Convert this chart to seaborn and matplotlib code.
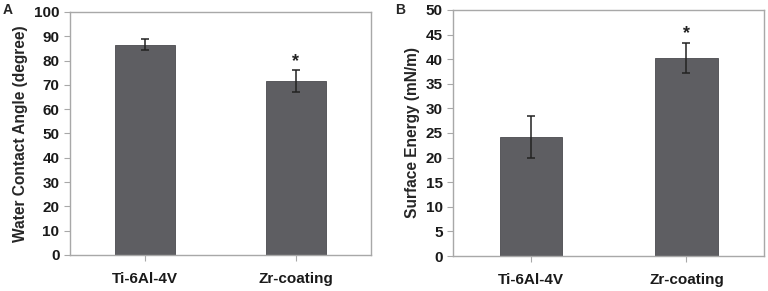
import pandas as pd
import matplotlib
matplotlib.use("Agg")
import matplotlib.pyplot as plt
import seaborn as sns

# dati
categorie = ["Ti-6Al-4V", "Zr-coating"]
angolo = [86.5, 71.5]
angolo_err = [2.3, 4.4]
energia = [24.2, 40.2]
energia_err = [4.3, 3.1]
significativo = [False, True]

sns.set_style("white")
plt.rcParams["font.family"] = ["Liberation Sans", "DejaVu Sans"]
plt.rcParams["font.weight"] = "bold"

BAR = "#5e5e62"
SPINE = "#a8a8a8"


def pannello(fig, rect, valori, errori, ylabel, ymax, passo, lettera, lettera_pos):
    ax = fig.add_axes(rect)
    df = pd.DataFrame({"cat": categorie, "val": valori})
    sns.barplot(data=df, x="cat", y="val", order=categorie, color=BAR,
                saturation=1, width=0.4, errorbar=None,
                edgecolor="#4a4a4e", linewidth=0.6, ax=ax)
    ax.errorbar(range(len(categorie)), valori, yerr=errori, fmt="none",
                ecolor="#222222", elinewidth=1.1, capsize=3, capthick=1.1)
    for i, (v, e, s) in enumerate(zip(valori, errori, significativo)):
        if s:
            ax.text(i, v + e + ymax * 0.038, "*", ha="center", va="center",
                    fontsize=13, fontweight="bold", color="#222222")
    ax.set_xlim(-0.5, 1.5)
    ax.set_ylim(0, ymax)
    ax.set_yticks(range(0, ymax + 1, passo))
    ax.set_xlabel("")
    ax.set_ylabel(ylabel, fontsize=11.2, fontweight="bold", labelpad=4)
    for sp in ax.spines.values():
        sp.set_color(SPINE)
        sp.set_linewidth(1.0)
    ax.tick_params(axis="both", which="major", labelsize=11, length=4,
                   color=SPINE, direction="out", bottom=True, left=True,
                   labelcolor="#1a1a1a")
    ax.tick_params(axis="x", pad=8)
    for lab in ax.get_xticklabels() + ax.get_yticklabels():
        lab.set_fontweight("bold")
    fig.text(lettera_pos[0], lettera_pos[1], lettera, fontsize=10,
             fontweight="bold", ha="left", va="top")
    return ax


fig = plt.figure(figsize=(7.68, 2.91), dpi=100)
pannello(fig, [0.091, 0.124, 0.392, 0.835], angolo, angolo_err,
         "Water Contact Angle (degree)", 100, 10, "A", (0.004, 0.99))
pannello(fig, [0.590, 0.120, 0.405, 0.846], energia, energia_err,
         "Surface Energy (mN/m)", 50, 5, "B", (0.514, 0.99))

plt.savefig("out.png", dpi=100)
plt.close()
